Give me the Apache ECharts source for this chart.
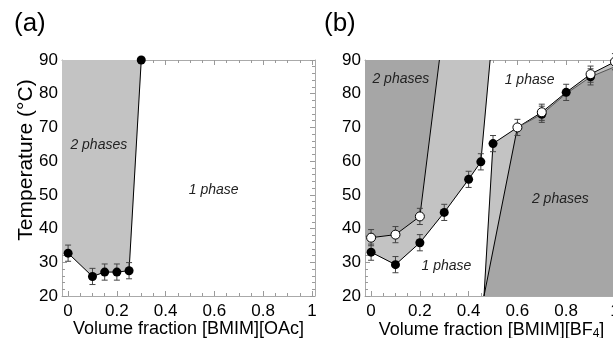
<!DOCTYPE html>
<html>
<head>
<meta charset="utf-8">
<script src="https://cdn.jsdelivr.net/npm/echarts@6/dist/echarts.min.js"></script>
<style>
  html, body { margin: 0; padding: 0; background: #fff; }
  #chart { width: 613px; height: 338px; }
</style>
</head>
<body>
<div id="chart"></div>
<script>
// axis ticks
const xTicks = [0, 0.2, 0.4, 0.6, 0.8, 1];
const xMinorTicks = [0.05, 0.1, 0.15, 0.25, 0.3, 0.35, 0.45, 0.5, 0.55, 0.65, 0.7, 0.75, 0.85, 0.9, 0.95];
const XMIN = -0.025;
const XMAX = 1.0125;

// panel (a): [BMIM][OAc]
const aX = [0, 0.1, 0.15, 0.2, 0.25, 0.3];
const aT = [32.7, 25.8, 27.1, 27.1, 27.5, 90];
const aErr = [2.4, 2.4, 2.4, 2.4, 2.4, 0];
const aLabelText = ["2 phases", "1 phase"];
const aLabelX = [0.126, 0.597];
const aLabelY = [64.8, 51.4];

// panel (b): [BMIM][BF4], left branch
const bLowX = [0, 0.1, 0.2, 0.3, 0.4, 0.45];
const bLowT = [33, 29.3, 35.8, 44.8, 54.6, 59.8];
const bLowErr = [2.4, 2.4, 2.4, 2.4, 2.4, 2.4];
const bUpX = [0, 0.1, 0.2];
const bUpT = [37.3, 38.2, 43.6];
const bUpErr = [2.4, 2.4, 2.4];
const bUpEdge = [0.28, 90];   // upper left boundary leaves the frame here
const bLowEdge = [0.488, 90];  // lower left boundary leaves the frame here
const bFoot = [0.463, 20];     // right boundaries meet the bottom here

// panel (b), right branch
const bRUpX = [0.5, 0.6, 0.7, 0.8, 0.9, 1.0];
const bRUpT = [65.2, 70, 74.5, 80.4, 85.8, 89.5];
const bRUpErr = [2.4, 2.4, 2.4, 2.4, 2.4, 2.4];
const bRUpMark = ["f", "o", "o", "f", "o", "o"];
const bRLowX = [0.6, 0.7, 0.8, 0.9, 1.0];
const bRLowT = [70, 73.9, 80, 85.0, 88];
const bRLowErr = [0, 2.4, 0, 2.4, 0];
const bRLowMark = ["", "f", "", "f", ""];

const bLabelText = ["2 phases", "1 phase", "1 phase", "2 phases"];
const bLabelX = [0.122, 0.65, 0.309, 0.776];
const bLabelY = [84.4, 84.1, 29, 48.7];

const FONT = '"Liberation Sans", Arial, sans-serif';
const FRAME = "#aaaaaa";
const TICK = "#9a9a9a";
const LIGHT = "#c3c3c3";
const DARK = "#a6a6a6";

const zip = (xs, ys) => xs.map((x, i) => [x, ys[i]]);
const fmt = (v) => String(+(+v).toFixed(2));

function xAxes(grid, name, rich) {
  const base = { gridIndex: grid, type: "value", min: XMIN, max: XMAX, splitLine: { show: false } };
  return [
    {
      ...base,
      position: "bottom",
      axisLine: { show: true, onZero: false, lineStyle: { color: FRAME } },
      axisTick: { show: true, inside: true, length: 5, customValues: xTicks, lineStyle: { color: TICK } },
      axisLabel: { customValues: xTicks, formatter: fmt, color: "#000", fontSize: 17, fontFamily: FONT, margin: 7 },
      name: name,
      nameLocation: "middle",
      nameGap: 24,
      nameMoveOverlap: false,
      nameTextStyle: { color: "#000", fontSize: 18, fontFamily: FONT, rich: rich },
    },
    {
      ...base,
      position: "bottom",
      axisLine: { show: false, onZero: false },
      axisTick: { show: true, inside: true, length: 3, customValues: xMinorTicks, lineStyle: { color: TICK } },
      axisLabel: { show: false },
    },
    {
      ...base,
      position: "top",
      axisLine: { show: true, onZero: false, lineStyle: { color: FRAME } },
      axisTick: { show: true, inside: true, length: 5, customValues: xTicks, lineStyle: { color: TICK } },
      axisLabel: { show: false },
    },
    {
      ...base,
      position: "top",
      axisLine: { show: false, onZero: false },
      axisTick: { show: true, inside: true, length: 3, customValues: xMinorTicks, lineStyle: { color: TICK } },
      axisLabel: { show: false },
    },
  ];
}

function yAxes(grid) {
  const base = {
    gridIndex: grid,
    type: "value",
    min: 20,
    max: 90,
    interval: 10,
    splitLine: { show: false },
    axisLine: { show: true, onZero: false, lineStyle: { color: FRAME } },
    axisTick: { show: true, inside: true, length: 5, lineStyle: { color: TICK } },
    minorTick: { show: true, splitNumber: 5, length: 3, lineStyle: { color: TICK } },
  };
  return [
    { ...base, position: "left", axisLabel: { color: "#000", fontSize: 17, fontFamily: FONT, margin: 4 } },
    { ...base, position: "right", axisLabel: { show: false } },
  ];
}

function polygon(xi, yi, pts, color) {
  return {
    type: "custom",
    xAxisIndex: xi,
    yAxisIndex: yi,
    clip: true,
    silent: true,
    z: 1,
    data: [[pts[0][0], pts[0][1]]],
    renderItem: (params, api) => ({
      type: "polygon",
      shape: { points: pts.map((p) => api.coord(p)) },
      style: { fill: color, stroke: color, lineWidth: 0.5 },
    }),
  };
}

function line(xi, yi, pts, color) {
  return {
    type: "line",
    xAxisIndex: xi,
    yAxisIndex: yi,
    data: pts,
    symbol: "none",
    silent: true,
    z: 3,
    lineStyle: { color: color || "#000", width: 1 },
  };
}

function errorBars(xi, yi, xs, ys, errs) {
  const data = [];
  xs.forEach((x, i) => {
    if (errs[i] > 0) data.push([x, ys[i] - errs[i], ys[i] + errs[i]]);
  });
  return {
    type: "custom",
    xAxisIndex: xi,
    yAxisIndex: yi,
    silent: true,
    clip: false,
    z: 4,
    encode: { x: 0, y: [1, 2] },
    data: data,
    renderItem: (params, api) => {
      const lo = api.coord([api.value(0), api.value(1)]);
      const hi = api.coord([api.value(0), api.value(2)]);
      const w = 3;
      const st = { stroke: "#444", lineWidth: 1 };
      return {
        type: "group",
        children: [
          { type: "line", shape: { x1: lo[0], y1: lo[1], x2: hi[0], y2: hi[1] }, style: st },
          { type: "line", shape: { x1: lo[0] - w, y1: lo[1], x2: lo[0] + w, y2: lo[1] }, style: st },
          { type: "line", shape: { x1: hi[0] - w, y1: hi[1], x2: hi[0] + w, y2: hi[1] }, style: st },
        ],
      };
    },
  };
}

function dots(xi, yi, pts, filled) {
  return {
    type: "scatter",
    xAxisIndex: xi,
    yAxisIndex: yi,
    data: pts,
    symbolSize: 9,
    silent: true,
    clip: false,
    z: filled ? 5 : 6,
    itemStyle: filled
      ? { color: "#000", opacity: 1 }
      : { color: "#fff", borderColor: "#000", borderWidth: 1, opacity: 1 },
  };
}

function labels(xi, yi, texts, xs, ys) {
  return {
    type: "custom",
    xAxisIndex: xi,
    yAxisIndex: yi,
    silent: true,
    z: 7,
    data: texts.map((t, i) => [xs[i], ys[i], i]),
    renderItem: (params, api) => {
      const p = api.coord([api.value(0), api.value(1)]);
      return {
        type: "text",
        x: p[0],
        y: p[1],
        style: {
          text: texts[api.value(2)],
          fill: "#222",
          fontSize: 14,
          fontStyle: "italic",
          fontFamily: FONT,
          align: "center",
          verticalAlign: "middle",
        },
      };
    },
  };
}

const pick = (xs, ys, marks, m) => xs.map((x, i) => [x, ys[i], marks[i]]).filter((d) => d[2] === m).map((d) => [d[0], d[1]]);

// fill regions
const aFill = [[XMIN, 90], [XMIN, aT[0]], ...zip(aX, aT)];
const bDarkL = [[XMIN, 90], [XMIN, bUpT[0]], ...zip(bUpX, bUpT), bUpEdge];
const bLightL = [bUpEdge, ...zip(bUpX, bUpT).reverse(), [XMIN, bUpT[0]], [XMIN, bLowT[0]], ...zip(bLowX, bLowT), bLowEdge];
const bWedge = [bFoot, [bRUpX[0], bRUpT[0]], [bRUpX[1], bRUpT[1]]];
const bRLast = bRLowT[bRLowT.length - 1];
const bSliver = [...zip(bRUpX.slice(1), bRUpT.slice(1)), [XMAX, 90], [XMAX, bRLast], ...zip(bRLowX, bRLowT).reverse()];
const bDarkR = [bFoot, ...zip(bRLowX, bRLowT), [XMAX, bRLast], [XMAX, 20]];

const chart = echarts.init(document.getElementById("chart"), null, { renderer: "canvas" });

chart.setOption({
  animation: false,
  backgroundColor: "#fff",
  grid: [
    { left: 62, top: 60, width: 253, height: 236, containLabel: false, outerBoundsMode: "none" },
    { left: 365, top: 60, width: 253, height: 236, containLabel: false, outerBoundsMode: "none" },
  ],
  xAxis: [
    ...xAxes(0, "Volume fraction [BMIM][OAc]"),
    ...xAxes(1, "{n|Volume fraction [BMIM][BF}{s|4}{n|]}", {
      n: { fontSize: 18, fontFamily: FONT, color: "#000" },
      s: { fontSize: 12, fontFamily: FONT, color: "#000", verticalAlign: "bottom", padding: [8, 0, 0, 0] },
    }),
  ],
  yAxis: [...yAxes(0), ...yAxes(1)],
  graphic: [
    { type: "text", left: 14, top: 11, style: { text: "(a)", fontSize: 26, fontFamily: FONT, fill: "#000" } },
    { type: "text", left: 324, top: 11, style: { text: "(b)", fontSize: 26, fontFamily: FONT, fill: "#000" } },
    {
      type: "text",
      x: 26,
      y: 160,
      rotation: Math.PI / 2,
      style: { text: "Temperature (°C)", fontSize: 21, fontFamily: FONT, fill: "#000", align: "center", verticalAlign: "middle" },
    },
  ],
  series: [
    // panel (a)
    polygon(0, 0, aFill, LIGHT),
    line(0, 0, zip(aX, aT)),
    errorBars(0, 0, aX, aT, aErr),
    dots(0, 0, zip(aX, aT), true),
    labels(0, 0, aLabelText, aLabelX, aLabelY),

    // panel (b)
    polygon(4, 2, bDarkL, DARK),
    polygon(4, 2, bLightL, LIGHT),
    polygon(4, 2, bWedge, LIGHT),
    polygon(4, 2, bSliver, LIGHT),
    polygon(4, 2, bDarkR, DARK),
    line(4, 2, [...zip(bLowX, bLowT), bLowEdge]),
    line(4, 2, [...zip(bUpX, bUpT), bUpEdge]),
    line(4, 2, [bFoot, [bRUpX[0], bRUpT[0]]]),
    line(4, 2, [bFoot, [bRUpX[1], bRUpT[1]]]),
    line(4, 2, zip(bRUpX, bRUpT)),
    line(4, 2, zip(bRLowX, bRLowT), "#555"),
    errorBars(4, 2, bLowX, bLowT, bLowErr),
    errorBars(4, 2, bUpX, bUpT, bUpErr),
    errorBars(4, 2, bRUpX, bRUpT, bRUpErr),
    errorBars(4, 2, bRLowX, bRLowT, bRLowErr),
    dots(4, 2, [...zip(bLowX, bLowT), ...pick(bRLowX, bRLowT, bRLowMark, "f")], true),
    dots(4, 2, [...zip(bUpX, bUpT), ...pick(bRUpX, bRUpT, bRUpMark, "o")], false),
    { ...dots(4, 2, pick(bRUpX, bRUpT, bRUpMark, "f"), true), z: 7 },
    labels(4, 2, bLabelText, bLabelX, bLabelY),
  ],
});
</script>
</body>
</html>
